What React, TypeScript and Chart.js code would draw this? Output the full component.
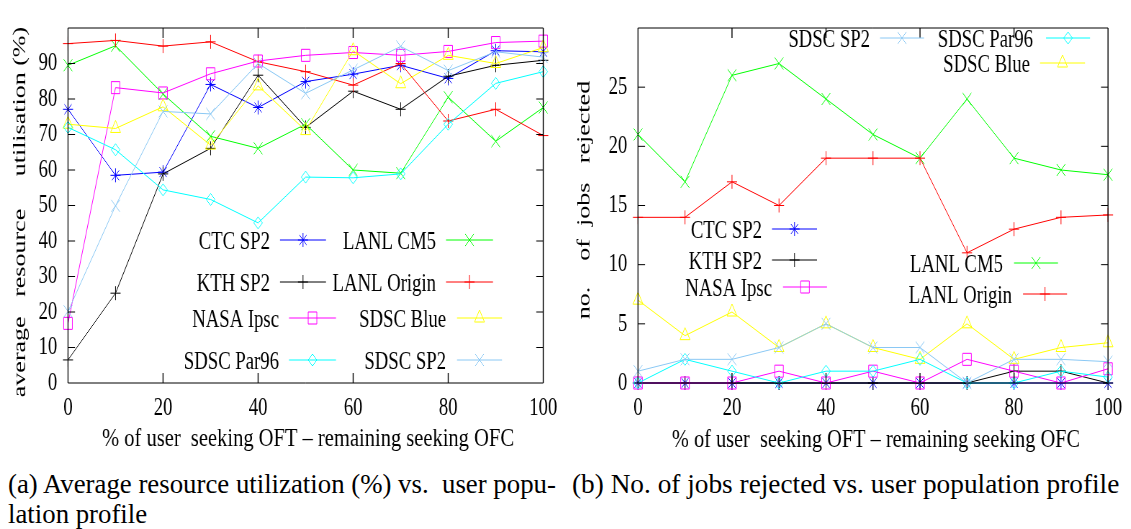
import React, { useEffect, useRef } from 'react';
import { Chart, registerables } from 'chart.js';

Chart.register(...registerables);

// ---------------- data ----------------
const X_VALUES = [0, 10, 20, 30, 40, 50, 60, 70, 80, 90, 100];
const X_TICKS = [0, 20, 40, 60, 80, 100];
const Y_TICKS_UTIL = [0, 10, 20, 30, 40, 50, 60, 70, 80, 90];
const Y_TICKS_REJ = [0, 5, 10, 15, 20, 25];

const SERIES_NAMES = ['CTC SP2', 'KTH SP2', 'LANL CM5', 'LANL Origin', 'NASA Ipsc', 'SDSC Blue', 'SDSC Par96', 'SDSC SP2'];

// (a) average resource utilisation (%)
const UTIL_CTC_SP2 = [77.1, 58.5, 59.4, 84.1, 77.6, 84.9, 87.0, 89.5, 85.8, 93.6, 93.3];
const UTIL_KTH_SP2 = [6.5, 25.3, 58.9, 66.1, 86.7, 72.0, 82.2, 77.1, 86.4, 89.5, 90.9];
const UTIL_LANL_CM5 = [89.5, 95.0, 81.4, 69.5, 66.1, 72.9, 60.0, 59.1, 80.5, 68.1, 77.6];
const UTIL_LANL_ORIGIN = [95.6, 96.5, 94.9, 96.1, 90.5, 87.7, 83.9, 90.0, 73.8, 77.1, 69.7];
const UTIL_NASA_IPSC = [16.8, 83.2, 81.7, 87.1, 90.7, 92.3, 93.1, 92.3, 93.4, 95.9, 96.3];
const UTIL_SDSC_BLUE = [72.9, 71.7, 77.8, 67.0, 83.7, 71.1, 93.6, 84.3, 92.3, 90.0, 94.5];
const UTIL_SDSC_PAR96 = [72.0, 65.7, 54.4, 51.7, 45.1, 58.0, 57.8, 58.9, 72.9, 84.4, 87.7];
const UTIL_SDSC_SP2 = [20.2, 49.9, 76.5, 75.8, 90.0, 81.6, 88.2, 94.8, 88.0, 93.3, 91.8];

// (b) number of jobs rejected
const REJ_CTC_SP2 = [0, 0, 0, 0, 0, 0, 0, 0, 0, 0, 0];
const REJ_KTH_SP2 = [0, 0, 0, 0, 0, 0, 0, 0, 1, 1, 0];
const REJ_LANL_CM5 = [21, 17, 26, 27, 24, 21, 19, 24, 19, 18, 17.6];
const REJ_LANL_ORIGIN = [14, 14, 17, 15, 19, 19, 19, 11, 13, 14, 14.2];
const REJ_NASA_IPSC = [0, 0, 0, 1, 0, 1, 0, 2, 1, 0, 1.2];
const REJ_SDSC_BLUE = [7, 4, 6, 3, 5, 3, 2, 5, 2, 3, 3.4];
const REJ_SDSC_PAR96 = [0, 2, 1, 0, 1, 1, 2, 0, 0, 1, 0.5];
const REJ_SDSC_SP2 = [1, 2, 2, 3, 5, 3, 3, 0, 2, 2, 1.8];

// ---------------- styles ----------------
const SERIES_COLORS = ['#0000ff', '#000000', '#00ff00', '#ff0000', '#ff00ff', '#ffff00', '#00ffff', '#8ac8f4'];
const SERIES_MARKERS = ['star', 'cross', 'crossRot', 'cross', 'rect', 'triangle', 'rectRot', 'crossRot'];
const SERIES_RADII = [7, 7, 8.5, 7, 8.5, 8, 6, 8.5];

const S = 0.72; // the reference figure is squeezed horizontally
const FONT = "'Liberation Serif', 'Times New Roman', serif";
const FS = 26;
const CANVAS_W_SCREEN = 566;
const CANVAS_W = Math.round(CANVAS_W_SCREEN / S);
const CANVAS_H = 460;
const PLOT_TOP = 13;
const PLOT_BOTTOM = 383;

type LegendItem = { series: number; textEnd: number; y: number; x1: number; x2: number };

type PanelSpec = {
  screenLeft: number;
  plotLeft: number;
  plotRight: number;
  values: number[][];
  yMax: number;
  yTicks: number[];
  yTitle: string;
  yTitleX: number;
  yTitleY: number;
  xTitle: string;
  xTitleX: number;
  xTitleY: number;
  xTitleW: number;
  legend: LegendItem[];
};

function drawMarker(ctx: CanvasRenderingContext2D, style: string, x: number, y: number, r: number) {
  ctx.beginPath();
  const o = r * Math.SQRT1_2;
  if (style === 'cross' || style === 'star') {
    ctx.moveTo(x, y - r); ctx.lineTo(x, y + r);
    ctx.moveTo(x - r, y); ctx.lineTo(x + r, y);
  }
  if (style === 'crossRot' || style === 'star') {
    ctx.moveTo(x - o, y - o); ctx.lineTo(x + o, y + o);
    ctx.moveTo(x - o, y + o); ctx.lineTo(x + o, y - o);
  }
  if (style === 'rect') {
    ctx.rect(x - o, y - o, 2 * o, 2 * o);
  }
  if (style === 'rectRot') {
    ctx.moveTo(x - r, y); ctx.lineTo(x, y - r); ctx.lineTo(x + r, y); ctx.lineTo(x, y + r); ctx.closePath();
  }
  if (style === 'triangle') {
    ctx.moveTo(x, y - r); ctx.lineTo(x + 0.866 * r, y + 0.5 * r); ctx.lineTo(x - 0.866 * r, y + 0.5 * r); ctx.closePath();
  }
  ctx.stroke();
}

function makeConfig(spec: PanelSpec): any {
  const toX = (sx: number) => (sx - spec.screenLeft) / S;
  const yWidth = toX(spec.plotLeft);
  const padRight = CANVAS_W - toX(spec.plotRight);

  const decor = {
    id: 'decor',
    afterDraw(chart: any) {
      const ctx: CanvasRenderingContext2D = chart.ctx;
      const { left, right, top, bottom } = chart.chartArea;
      const xs = chart.scales.x;
      const ys = chart.scales.y;
      ctx.save();
      ctx.strokeStyle = '#000';
      // frame
      ctx.lineWidth = 1;
      ctx.beginPath();
      ctx.moveTo(left, top); ctx.lineTo(right, top);
      ctx.moveTo(left, bottom); ctx.lineTo(right, bottom);
      ctx.stroke();
      ctx.lineWidth = 1 / S;
      ctx.beginPath();
      ctx.moveTo(left, top); ctx.lineTo(left, bottom);
      ctx.moveTo(right, top); ctx.lineTo(right, bottom);
      ctx.stroke();
      // inward ticks on all four sides
      ctx.lineWidth = 1;
      ctx.beginPath();
      spec.yTicks.forEach((v) => {
        if (v <= 0 || v >= spec.yMax) return;
        const py = ys.getPixelForValue(v);
        ctx.moveTo(left, py); ctx.lineTo(left + 7 / S, py);
        ctx.moveTo(right, py); ctx.lineTo(right - 7 / S, py);
      });
      ctx.stroke();
      ctx.lineWidth = 1 / S;
      ctx.beginPath();
      X_TICKS.forEach((v) => {
        if (v <= 0 || v >= 100) return;
        const px = xs.getPixelForValue(v);
        ctx.moveTo(px, bottom); ctx.lineTo(px, bottom - 10);
        ctx.moveTo(px, top); ctx.lineTo(px, top + 10);
      });
      ctx.stroke();

      // axis titles
      ctx.fillStyle = '#000';
      ctx.font = `${FS}px ${FONT}`;
      ctx.textAlign = 'center';
      ctx.textBaseline = 'alphabetic';
      const natural = ctx.measureText(spec.xTitle).width;
      const target = spec.xTitleW / S;
      ctx.save();
      ctx.translate(toX(spec.xTitleX), spec.xTitleY + 0.33 * FS);
      ctx.scale(target / natural, 1);
      ctx.fillText(spec.xTitle, 0, 0);
      ctx.restore();
      ctx.save();
      ctx.translate(toX(spec.yTitleX), spec.yTitleY);
      ctx.rotate(-Math.PI / 2);
      ctx.fillText(spec.yTitle, 0, 0.33 * FS);
      ctx.restore();

      // legend
      spec.legend.forEach((it) => {
        ctx.fillStyle = '#000';
        ctx.textAlign = 'right';
        ctx.fillText(SERIES_NAMES[it.series], toX(it.textEnd), it.y + 0.33 * FS);
        ctx.strokeStyle = SERIES_COLORS[it.series];
        ctx.lineWidth = 1;
        ctx.beginPath();
        ctx.moveTo(toX(it.x1), it.y);
        ctx.lineTo(toX(it.x2), it.y);
        ctx.stroke();
        drawMarker(ctx, SERIES_MARKERS[it.series], toX((it.x1 + it.x2) / 2), it.y, SERIES_RADII[it.series]);
      });
      ctx.restore();
    },
  };

  const tickFont = { family: FONT, size: FS, lineHeight: 1 };

  return {
    type: 'line',
    data: {
      datasets: spec.values.map((vals, i) => ({
        label: SERIES_NAMES[i],
        data: X_VALUES.map((x, j) => ({ x, y: vals[j] })),
        borderColor: SERIES_COLORS[i],
        backgroundColor: 'rgba(0,0,0,0)',
        pointBackgroundColor: 'rgba(0,0,0,0)',
        pointBorderColor: SERIES_COLORS[i],
        pointStyle: SERIES_MARKERS[i],
        pointRadius: SERIES_RADII[i],
        pointBorderWidth: 1,
        borderWidth: 1,
        tension: 0,
        fill: false,
        clip: false,
        order: spec.values.length - i,
      })),
    },
    options: {
      responsive: false,
      animation: false,
      devicePixelRatio: 1,
      events: [],
      layout: { padding: { left: 0, right: padRight, top: PLOT_TOP, bottom: 0 } },
      plugins: { legend: { display: false }, tooltip: { enabled: false }, title: { display: false } },
      scales: {
        x: {
          type: 'linear',
          min: 0,
          max: 100,
          afterBuildTicks: (sc: any) => { sc.ticks = X_TICKS.map((v) => ({ value: v })); },
          afterFit: (sc: any) => { sc.height = CANVAS_H - PLOT_BOTTOM; },
          grid: { display: false, drawTicks: false },
          border: { display: false },
          ticks: { padding: 12, color: '#000', font: tickFont, maxRotation: 0, autoSkip: false },
        },
        y: {
          type: 'linear',
          min: 0,
          max: spec.yMax,
          afterBuildTicks: (sc: any) => { sc.ticks = spec.yTicks.map((v) => ({ value: v })); },
          afterFit: (sc: any) => { sc.width = yWidth; },
          grid: { display: false, drawTicks: false },
          border: { display: false },
          ticks: { padding: 15, color: '#000', font: tickFont, autoSkip: false },
        },
      },
    },
    plugins: [decor],
  };
}

const PANEL_A: PanelSpec = {
  screenLeft: 0,
  plotLeft: 68,
  plotRight: 545,
  values: [UTIL_CTC_SP2, UTIL_KTH_SP2, UTIL_LANL_CM5, UTIL_LANL_ORIGIN, UTIL_NASA_IPSC, UTIL_SDSC_BLUE, UTIL_SDSC_PAR96, UTIL_SDSC_SP2],
  yMax: 100,
  yTicks: Y_TICKS_UTIL,
  yTitle: 'average   resource     utilisation (%)',
  yTitleX: 19,
  yTitleY: 212,
  xTitle: '% of user  seeking OFT \u2013 remaining seeking OFC',
  xTitleX: 308,
  xTitleY: 437,
  xTitleW: 412,
  legend: [
    { series: 0, textEnd: 270, y: 240, x1: 280, x2: 326 },
    { series: 2, textEnd: 436, y: 240, x1: 446, x2: 493 },
    { series: 1, textEnd: 270, y: 282, x1: 280, x2: 326 },
    { series: 3, textEnd: 436, y: 282, x1: 446, x2: 493 },
    { series: 4, textEnd: 279, y: 318, x1: 289, x2: 336 },
    { series: 5, textEnd: 446, y: 318, x1: 457, x2: 502 },
    { series: 6, textEnd: 279, y: 360, x1: 289, x2: 336 },
    { series: 7, textEnd: 446, y: 360, x1: 457, x2: 502 },
  ],
};

const PANEL_B: PanelSpec = {
  screenLeft: 565,
  plotLeft: 638,
  plotRight: 1108,
  values: [REJ_CTC_SP2, REJ_KTH_SP2, REJ_LANL_CM5, REJ_LANL_ORIGIN, REJ_NASA_IPSC, REJ_SDSC_BLUE, REJ_SDSC_PAR96, REJ_SDSC_SP2],
  yMax: 30,
  yTicks: Y_TICKS_REJ,
  yTitle: 'no.    of  jobs   rejected',
  yTitleX: 583,
  yTitleY: 200,
  xTitle: '% of user  seeking OFT \u2013 remaining seeking OFC',
  xTitleX: 876,
  xTitleY: 438,
  xTitleW: 408,
  legend: [
    { series: 7, textEnd: 870, y: 38, x1: 880, x2: 924 },
    { series: 6, textEnd: 1033, y: 38, x1: 1046, x2: 1090 },
    { series: 5, textEnd: 1030, y: 63, x1: 1040, x2: 1085 },
    { series: 0, textEnd: 762, y: 229, x1: 772, x2: 817 },
    { series: 1, textEnd: 762, y: 260, x1: 772, x2: 817 },
    { series: 4, textEnd: 772, y: 287, x1: 783, x2: 827 },
    { series: 2, textEnd: 1003, y: 263, x1: 1014, x2: 1058 },
    { series: 3, textEnd: 1012, y: 294, x1: 1023, x2: 1067 },
  ],
};

function Panel({ spec }: { spec: PanelSpec }) {
  const ref = useRef<HTMLCanvasElement | null>(null);
  useEffect(() => {
    if (!ref.current) return;
    const chart = new Chart(ref.current, makeConfig(spec));
    return () => chart.destroy();
  }, [spec]);
  return (
    <div
      style={{
        position: 'absolute',
        left: spec.screenLeft,
        top: 0,
        width: CANVAS_W,
        height: CANVAS_H,
        transform: `scaleX(${S})`,
        transformOrigin: '0 0',
      }}
    >
      <canvas ref={ref} width={CANVAS_W} height={CANVAS_H} style={{ display: 'block' }} />
    </div>
  );
}

const captionStyle: React.CSSProperties = {
  position: 'absolute',
  top: 469,
  fontFamily: FONT,
  lineHeight: '30px',
  whiteSpace: 'pre',
  color: '#000',
};

export default function App() {
  return (
    <div style={{ position: 'absolute', left: 0, top: 0, width: 1131, height: 529, background: '#fff', overflow: 'hidden' }}>
      <Panel spec={PANEL_A} />
      <Panel spec={PANEL_B} />
      <div style={{ ...captionStyle, left: 8, fontSize: 26.8 }}>{'(a) Average resource utilization (%) vs.  user popu-\nlation profile'}</div>
      <div style={{ ...captionStyle, left: 572, fontSize: 27.3 }}>{'(b) No. of jobs rejected vs. user population profile'}</div>
    </div>
  );
}
